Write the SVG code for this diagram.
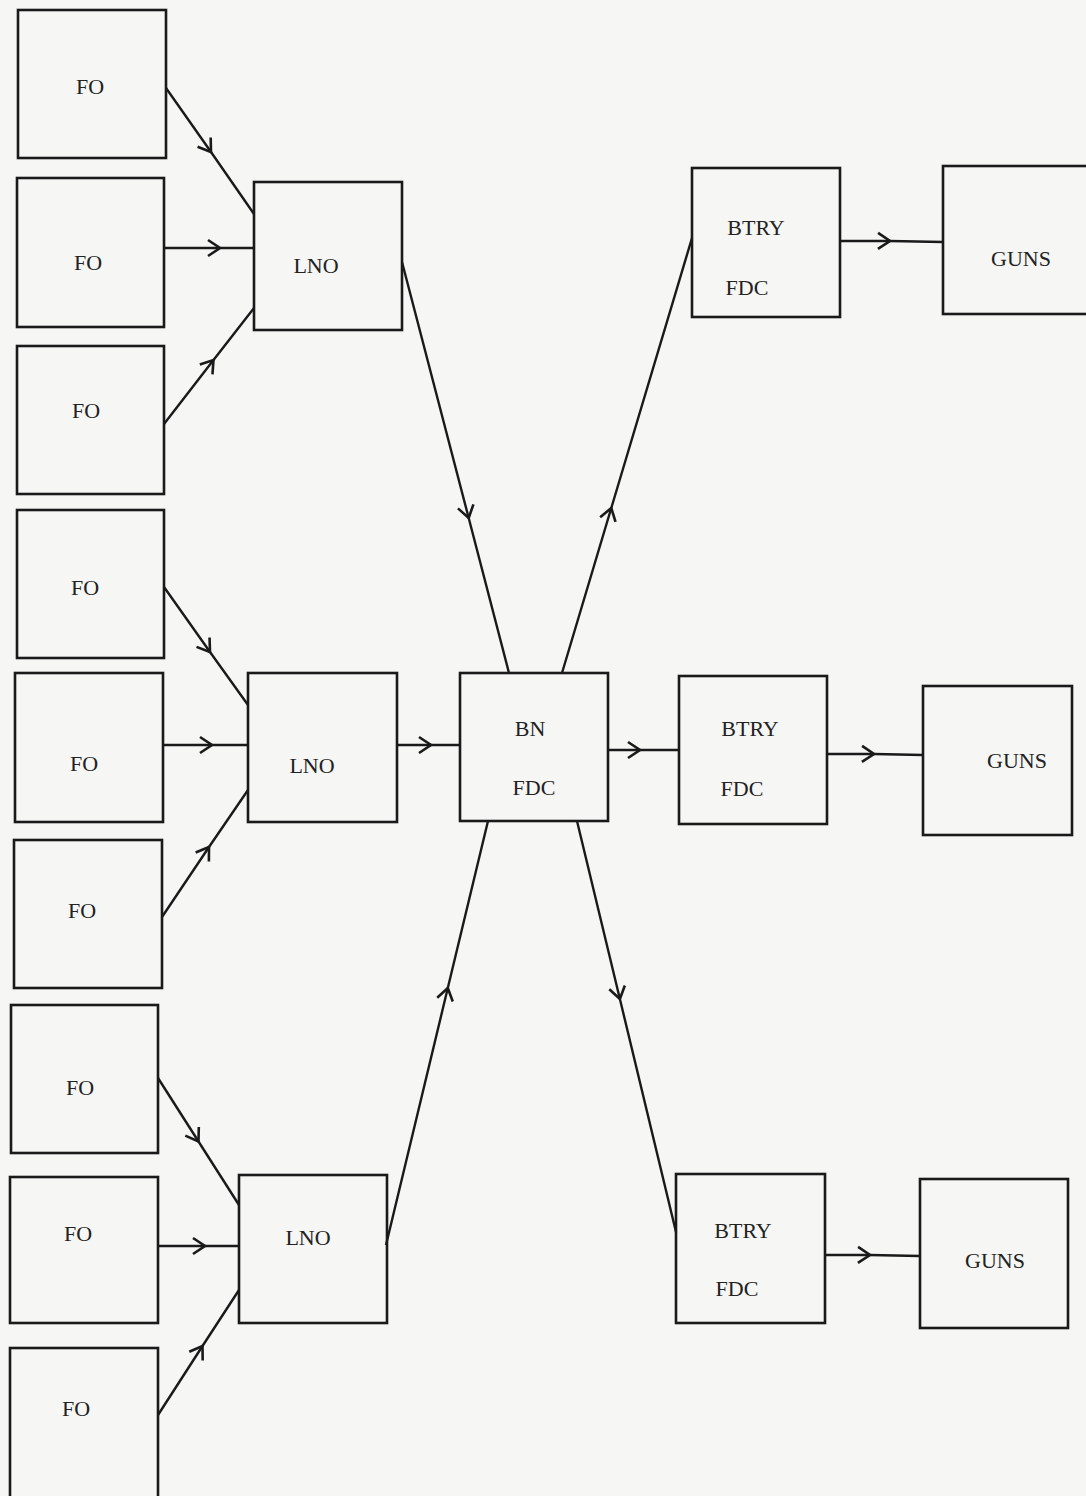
<svg xmlns="http://www.w3.org/2000/svg" width="1086" height="1496" viewBox="0 0 1086 1496">
<style>
.box{fill:none;stroke:#1a1a1a;stroke-width:2.6}
.lbl{font-family:"Liberation Serif","DejaVu Serif",serif;font-size:22px;fill:#222;text-anchor:middle;dominant-baseline:central}
.c{fill:none;stroke:#1a1a1a;stroke-width:2.4;marker-mid:url(#chev)}
</style>
<defs>
<marker id="chev" viewBox="-14 -10 16 20" markerWidth="16" markerHeight="20" refX="0" refY="0" orient="auto" markerUnits="userSpaceOnUse">
<path d="M-12,-8 L0,0 L-12,8" fill="none" stroke="#1a1a1a" stroke-width="2.6"/>
</marker>
</defs>
<rect width="1086" height="1496" fill="#f6f6f4"/>
<g id="fo1"><rect class="box" x="18" y="10" width="148" height="148"/><text class="lbl" x="90" y="86">FO</text></g>
<g id="fo2"><rect class="box" x="17" y="178" width="147" height="149"/><text class="lbl" x="88" y="262">FO</text></g>
<g id="fo3"><rect class="box" x="17" y="346" width="147" height="148"/><text class="lbl" x="86" y="410">FO</text></g>
<g id="fo4"><rect class="box" x="17" y="510" width="147" height="148"/><text class="lbl" x="85" y="587">FO</text></g>
<g id="fo5"><rect class="box" x="15" y="673" width="148" height="149"/><text class="lbl" x="84" y="763">FO</text></g>
<g id="fo6"><rect class="box" x="14" y="840" width="148" height="148"/><text class="lbl" x="82" y="910">FO</text></g>
<g id="fo7"><rect class="box" x="11" y="1005" width="147" height="148"/><text class="lbl" x="80" y="1087">FO</text></g>
<g id="fo8"><rect class="box" x="10" y="1177" width="148" height="146"/><text class="lbl" x="78" y="1233">FO</text></g>
<g id="fo9"><rect class="box" x="10" y="1348" width="148" height="150"/><text class="lbl" x="76" y="1408">FO</text></g>
<g id="lno1"><rect class="box" x="254" y="182" width="148" height="148"/><text class="lbl" x="316" y="265">LNO</text></g>
<g id="lno2"><rect class="box" x="248" y="673" width="149" height="149"/><text class="lbl" x="312" y="765">LNO</text></g>
<g id="lno3"><rect class="box" x="239" y="1175" width="148" height="148"/><text class="lbl" x="308" y="1237">LNO</text></g>
<g id="bn"><rect class="box" x="460" y="673" width="148" height="148"/><text class="lbl" x="530" y="728">BN</text><text class="lbl" x="534" y="787">FDC</text></g>
<g id="btry1"><rect class="box" x="692" y="168" width="148" height="149"/><text class="lbl" x="756" y="227">BTRY</text><text class="lbl" x="747" y="287">FDC</text></g>
<g id="btry2"><rect class="box" x="679" y="676" width="148" height="148"/><text class="lbl" x="750" y="728">BTRY</text><text class="lbl" x="742" y="788">FDC</text></g>
<g id="btry3"><rect class="box" x="676" y="1174" width="149" height="149"/><text class="lbl" x="743" y="1230">BTRY</text><text class="lbl" x="737" y="1288">FDC</text></g>
<g id="guns1"><rect class="box" x="943" y="166" width="146" height="148"/><text class="lbl" x="1021" y="258">GUNS</text></g>
<g id="guns2"><rect class="box" x="923" y="686" width="149" height="149"/><text class="lbl" x="1017" y="760">GUNS</text></g>
<g id="guns3"><rect class="box" x="920" y="1179" width="148" height="149"/><text class="lbl" x="995" y="1260">GUNS</text></g>
<g id="connectors">
<polyline class="c" points="166,88 211,152 254,214"/>
<polyline class="c" points="164,248 220,248 254,248"/>
<polyline class="c" points="164,424 213.5,360 254,308"/>
<polyline class="c" points="164,587 210,652 248,705"/>
<polyline class="c" points="163,745 212,745 248,745"/>
<polyline class="c" points="162,917 209,847 248,790"/>
<polyline class="c" points="158,1078 198.5,1141.5 239,1205"/>
<polyline class="c" points="158,1246 205,1246 239,1246"/>
<polyline class="c" points="158,1415 202.5,1346 239,1290"/>
<polyline class="c" points="402,262 468.7,518 509,673"/>
<polyline class="c" points="397,745 431,745 460,745"/>
<polyline class="c" points="386,1245 447.8,988 488,821"/>
<polyline class="c" points="562,673 611.3,508 692,238"/>
<polyline class="c" points="608,750 640,750 679,750"/>
<polyline class="c" points="577,821 619.9,999 676,1232"/>
<polyline class="c" points="840,241 890,241 943,242"/>
<polyline class="c" points="827,754 874,754 923,755"/>
<polyline class="c" points="825,1255 870,1255 920,1256"/>
</g>
</svg>
